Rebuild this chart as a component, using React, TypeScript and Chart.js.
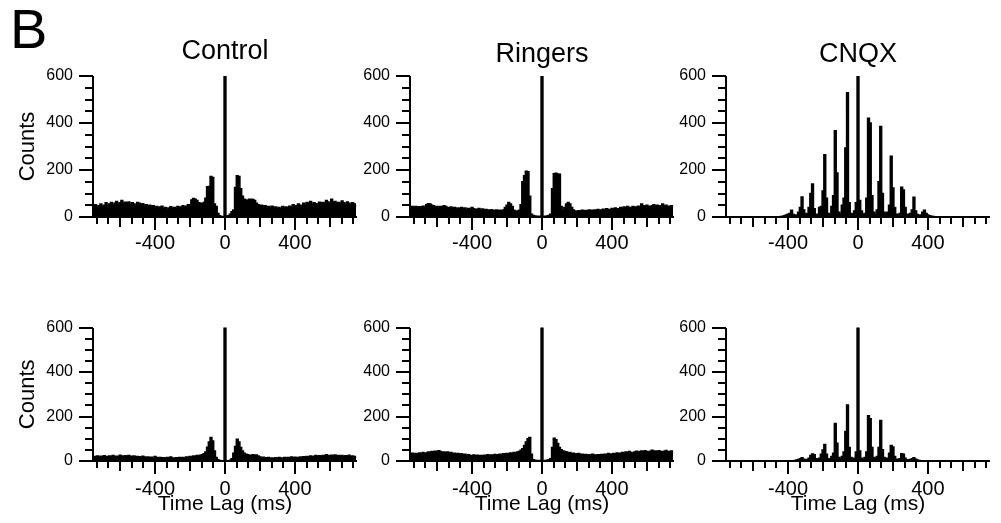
import React, { useEffect, useRef } from "react";
import { Chart, registerables } from "chart.js";

Chart.register(...registerables);

// ---------- data ----------
const LAGS = [
  -750, -740, -730, -720, -710, -700, -690, -680, -670, -660,
  -650, -640, -630, -620, -610, -600, -590, -580, -570, -560,
  -550, -540, -530, -520, -510, -500, -490, -480, -470, -460,
  -450, -440, -430, -420, -410, -400, -390, -380, -370, -360,
  -350, -340, -330, -320, -310, -300, -290, -280, -270, -260,
  -250, -240, -230, -220, -210, -200, -190, -180, -170, -160,
  -150, -140, -130, -120, -110, -100, -90, -80, -70, -60,
  -50, -40, -30, -20, -10, 0, 10, 20, 30, 40,
  50, 60, 70, 80, 90, 100, 110, 120, 130, 140,
  150, 160, 170, 180, 190, 200, 210, 220, 230, 240,
  250, 260, 270, 280, 290, 300, 310, 320, 330, 340,
  350, 360, 370, 380, 390, 400, 410, 420, 430, 440,
  450, 460, 470, 480, 490, 500, 510, 520, 530, 540,
  550, 560, 570, 580, 590, 600, 610, 620, 630, 640,
  650, 660, 670, 680, 690, 700, 710, 720, 730, 740, 750,
];

const CONTROL_TOP = [
  45, 52, 40, 48, 55, 42, 50, 60, 47, 55,
  62, 50, 58, 66, 52, 60, 70, 55, 63, 58,
  64, 52, 60, 55, 48, 62, 58, 50, 56, 45,
  52, 44, 50, 42, 48, 40, 45, 38, 42, 46,
  36, 40, 32, 38, 43, 35, 40, 36, 44, 38,
  42, 48, 40, 46, 52, 45, 72, 78, 75, 70,
  60, 58, 55, 62, 80, 128, 130, 172, 168, 55,
  45, 15, 5, 2, 0, 600, 0, 5, 12, 22,
  30, 125, 175, 172, 120, 88, 75, 72, 70, 75,
  75, 74, 70, 58, 52, 48, 50, 44, 48, 42,
  45, 40, 46, 38, 42, 36, 40, 35, 44, 38,
  42, 38, 46, 40, 52, 45, 48, 55, 50, 46,
  58, 50, 62, 55, 66, 52, 60, 56, 50, 63,
  58, 62, 55, 70, 64, 58, 75, 60, 66, 58,
  62, 55, 68, 60, 52, 64, 58, 50, 60, 55, 48,
];

const RINGERS_TOP = [
  42, 45, 40, 44, 38, 43, 40, 46, 41, 52,
  56, 55, 50, 48, 40, 44, 38, 45, 42, 48,
  44, 40, 38, 42, 36, 40, 33, 38, 35, 40,
  34, 38, 30, 36, 32, 40, 35, 30, 33, 36,
  30, 34, 28, 32, 30, 27, 31, 28, 25, 30,
  26, 28, 24, 30, 40, 50, 62, 55, 45, 28,
  22, 25, 28, 52, 150, 175, 194, 192, 88, 12,
  6, 4, 3, 3, 2, 600, 2, 3, 4, 6,
  12, 120, 184, 186, 183, 182, 45, 26, 40, 55,
  62, 55, 40, 30, 25, 22, 26, 24, 28, 25,
  27, 24, 30, 28, 26, 30, 27, 32, 28, 30,
  33, 30, 35, 32, 30, 36, 34, 38, 35, 33,
  40, 36, 42, 38, 44, 40, 37, 45, 42, 40,
  46, 42, 55, 48, 44, 50, 46, 42, 48, 52,
  45, 50, 42, 48, 55, 44, 50, 46, 42, 48, 44,
];

const CNQX_TOP = [
  0, 0, 0, 0, 0, 0, 0, 0, 0, 0,
  0, 0, 0, 0, 0, 0, 0, 0, 0, 0,
  0, 0, 0, 0, 0, 0, 0, 0, 0, 0,
  0, 2, 3, 5, 8, 12, 15, 28, 10, 5,
  8, 20, 40, 85, 30, 8, 15, 40, 100, 140,
  35, 8, 12, 40, 45, 110, 265, 80, 15, 10,
  45, 90, 367, 187, 20, 10, 50, 80, 293, 528,
  60, 15, 10, 25, 60, 600, 70, 25, 10, 15,
  80, 420, 400, 90, 20, 10, 30, 150, 385, 100,
  20, 10, 20, 50, 258, 123, 40, 12, 8, 15,
  126, 115, 40, 12, 8, 15, 30, 84, 25, 10,
  5, 8, 20, 28, 15, 8, 5, 3, 2, 0,
  0, 0, 0, 0, 0, 0, 0, 0, 0, 0,
  0, 0, 0, 0, 0, 0, 0, 0, 0, 0,
  0, 0, 0, 0, 0, 0, 0, 0, 0, 0, 0,
];

const CONTROL_BOTTOM = [
  20, 18, 22, 17, 21, 19, 23, 18, 20, 22,
  19, 24, 18, 21, 20, 26, 22, 19, 23, 20,
  24, 18, 21, 22, 17, 20, 19, 16, 21, 18,
  15, 18, 14, 17, 12, 20, 15, 13, 16, 12,
  14, 11, 15, 12, 18, 13, 10, 14, 12, 15,
  13, 16, 12, 18, 15, 20, 17, 22, 19, 24,
  22, 26, 28, 32, 40, 62, 85, 105, 90, 45,
  15, 5, 2, 1, 0, 600, 0, 1, 3, 10,
  35, 65, 98, 85, 60, 45, 35, 30, 28, 26,
  25, 28, 24, 27, 22, 18, 15, 17, 14, 12,
  15, 11, 13, 10, 14, 12, 16, 13, 11, 15,
  12, 16, 14, 18, 13, 17, 15, 12, 18, 16,
  19, 15, 20, 17, 22, 18, 21, 24, 19, 23,
  20, 25, 22, 28, 24, 21, 26, 23, 27, 22,
  25, 21, 24, 19, 23, 20, 26, 18, 22, 20, 17,
];

const RINGERS_BOTTOM = [
  30, 35, 28, 33, 30, 36, 32, 38, 34, 36,
  40, 36, 42, 38, 44, 40, 46, 42, 38, 40,
  36, 40, 34, 38, 32, 35, 30, 33, 28, 32,
  26, 30, 24, 28, 25, 22, 27, 24, 26, 23,
  25, 22, 26, 24, 28, 23, 27, 25, 29, 26,
  28, 30, 26, 32, 29, 34, 31, 36, 33, 38,
  35, 40, 42, 48, 55, 70, 85, 100, 105, 30,
  5, 3, 2, 2, 1, 600, 1, 2, 3, 5,
  10, 60, 102, 95, 78, 60, 50, 45, 42, 40,
  36, 38, 34, 35, 32, 30, 33, 28, 30, 27,
  29, 26, 28, 25, 30, 27, 24, 28, 26, 29,
  27, 30, 28, 33, 29, 31, 34, 30, 36, 32,
  35, 38, 33, 40, 36, 42, 38, 35, 40, 44,
  38, 42, 45, 40, 46, 42, 38, 44, 48, 42,
  45, 40, 46, 42, 38, 44, 47, 42, 40, 45, 38,
];

const CNQX_BOTTOM = [
  0, 0, 0, 0, 0, 0, 0, 0, 0, 0,
  0, 0, 0, 0, 0, 0, 0, 0, 0, 0,
  0, 0, 0, 0, 0, 0, 0, 0, 0, 0,
  0, 0, 0, 0, 0, 0, 0, 0, 0, 2,
  4, 6, 10, 14, 8, 4, 6, 12, 25, 31,
  28, 10, 5, 12, 30, 49, 74, 30, 8, 10,
  20, 35, 168, 80, 15, 10, 20, 40, 133, 252,
  60, 15, 8, 12, 40, 600, 45, 12, 8, 15,
  40, 203, 190, 60, 15, 10, 20, 60, 182, 50,
  15, 8, 12, 35, 70, 63, 20, 8, 5, 10,
  32, 30, 12, 5, 4, 6, 10, 14, 8, 4,
  2, 0, 0, 0, 0, 0, 0, 0, 0, 0,
  0, 0, 0, 0, 0, 0, 0, 0, 0, 0,
  0, 0, 0, 0, 0, 0, 0, 0, 0, 0,
  0, 0, 0, 0, 0, 0, 0, 0, 0, 0, 0,
];

const COLUMN_TITLES = ["Control", "Ringers", "CNQX"];
const PANEL_LETTER = "B";
const Y_TITLE = "Counts";
const X_TITLE = "Time Lag (ms)";

const LAG_MIN = -755;
const LAG_MAX = 755;
const COUNT_MIN = 0;
const COUNT_MAX = 600;

const X_LABEL_TICKS = [-400, 0, 400];
const Y_LABEL_TICKS = [0, 200, 400, 600];
const X_MARK_TICKS = [
  -733.333, -666.667, -600, -533.333, -466.667, -400, -333.333, -266.667,
  -200, -133.333, -66.667, 0, 66.667, 133.333, 200, 266.667, 333.333, 400,
  466.667, 533.333, 600, 666.667, 733.333,
];
const Y_MARK_TICKS = [0, 50, 100, 150, 200, 250, 300, 350, 400, 450, 500, 550, 600];

// ---------- layout ----------
const FONT = "'Liberation Sans', Arial, Helvetica, sans-serif";
Chart.defaults.font.family = FONT;
Chart.defaults.color = "#000";

const COLS = [
  { left: 0, width: 367, yWidth: 93 },
  { left: 340, width: 344, yWidth: 70 },
  { left: 656, width: 344, yWidth: 70 },
];
const ROWS = [
  { top: 10, height: 252, xHeight: 45, padTop: 0, labelPad: 14 },
  { top: 298, height: 225, xHeight: 62, padTop: 20, labelPad: 16 },
];
const TITLE_PADS = [
  { top: 25.8, bottom: 7.8 },
  { top: 28.8, bottom: 4.8 },
  { top: 28.8, bottom: 4.8 },
];

const PANELS = [
  { row: 0, col: 0, values: CONTROL_TOP },
  { row: 0, col: 1, values: RINGERS_TOP },
  { row: 0, col: 2, values: CNQX_TOP },
  { row: 1, col: 0, values: CONTROL_BOTTOM },
  { row: 1, col: 1, values: RINGERS_BOTTOM },
  { row: 1, col: 2, values: CNQX_BOTTOM },
];

const isMultiple = (v: number, m: number) => {
  const r = Math.abs(v) / m;
  return Math.abs(r - Math.round(r)) < 1e-3;
};

const axesPlugin = {
  id: "histAxes",
  afterDatasetsDraw(chart: any) {
    const { ctx } = chart;
    const x = chart.scales.x;
    const y = chart.scales.y;
    const x0 = Math.round(x.getPixelForValue(LAG_MIN));
    const x1 = Math.round(x.getPixelForValue(LAG_MAX));
    const yb = Math.round(y.getPixelForValue(COUNT_MIN));
    const yt = Math.round(y.getPixelForValue(COUNT_MAX));
    ctx.save();
    ctx.strokeStyle = "#000";
    ctx.lineWidth = 2;
    ctx.beginPath();
    ctx.moveTo(x0, yt);
    ctx.lineTo(x0, yb + 1);
    ctx.moveTo(x0 - 1, yb);
    ctx.lineTo(x1, yb);
    Y_MARK_TICKS.forEach((v) => {
      const py = Math.round(y.getPixelForValue(v));
      const len = isMultiple(v, 200) ? 14 : 8;
      ctx.moveTo(x0, py);
      ctx.lineTo(x0 - len, py);
    });
    X_MARK_TICKS.forEach((v) => {
      const px = Math.round(x.getPixelForValue(v));
      const len = isMultiple(v, 400) ? 13 : isMultiple(v, 200) ? 10 : 7;
      ctx.moveTo(px, yb);
      ctx.lineTo(px, yb + len);
    });
    ctx.stroke();
    ctx.restore();
  },
};

function Panel({ row, col, values }: { row: number; col: number; values: number[] }) {
  const ref = useRef<HTMLCanvasElement | null>(null);
  const c = COLS[col];
  const r = ROWS[row];
  useEffect(() => {
    if (!ref.current) return;
    const chart = new Chart(ref.current, {
      type: "line",
      data: {
        datasets: [
          {
            data: LAGS.map((lag, i) => ({ x: lag, y: values[i] })),
            stepped: "middle",
            fill: "origin",
            backgroundColor: "#000",
            borderColor: "#000",
            borderWidth: 1.6,
            pointRadius: 0,
          },
        ],
      },
      options: {
        animation: false,
        responsive: false,
        devicePixelRatio: 1,
        events: [],
        layout: { padding: { left: 0, right: 10, top: r.padTop, bottom: 0 } },
        plugins: {
          legend: { display: false },
          tooltip: { enabled: false },
          title:
            row === 0
              ? {
                  display: true,
                  text: COLUMN_TITLES[col],
                  fullSize: false,
                  color: "#000",
                  font: { size: 27, weight: "normal", family: FONT },
                  padding: TITLE_PADS[col],
                }
              : { display: false },
        },
        scales: {
          x: {
            type: "linear",
            min: LAG_MIN,
            max: LAG_MAX,
            grid: { display: false, drawTicks: false },
            border: { display: false },
            afterBuildTicks: (s: any) => {
              s.ticks = X_LABEL_TICKS.map((v) => ({ value: v }));
            },
            afterFit: (s: any) => {
              s.height = r.xHeight;
            },
            ticks: {
              autoSkip: false,
              maxRotation: 0,
              minRotation: 0,
              padding: r.labelPad,
              color: "#000",
              font: { size: 20, family: FONT },
              callback: (v: any) => String(v),
            },
            title:
              row === 1
                ? {
                    display: true,
                    text: X_TITLE,
                    color: "#000",
                    font: { size: 21, family: FONT },
                    padding: { top: 0, bottom: 6 },
                  }
                : { display: false },
          },
          y: {
            type: "linear",
            min: COUNT_MIN,
            max: COUNT_MAX,
            grid: { display: false, drawTicks: false },
            border: { display: false },
            afterBuildTicks: (s: any) => {
              s.ticks = Y_LABEL_TICKS.map((v) => ({ value: v }));
            },
            afterFit: (s: any) => {
              s.width = c.yWidth;
            },
            ticks: {
              autoSkip: false,
              padding: 20,
              color: "#000",
              font: { size: 16, family: FONT },
              callback: (v: any) => String(v),
            },
            title:
              col === 0
                ? {
                    display: true,
                    text: Y_TITLE,
                    color: "#000",
                    font: { size: 22, family: FONT },
                    padding: { top: 14.3, bottom: 0 },
                  }
                : { display: false },
          },
        },
      } as any,
      plugins: [axesPlugin],
    });
    return () => chart.destroy();
  }, []);
  return (
    <canvas
      ref={ref}
      width={c.width}
      height={r.height}
      style={{ position: "absolute", left: c.left, top: r.top, width: c.width, height: r.height }}
    />
  );
}

export default function App() {
  return (
    <div
      style={{
        position: "fixed",
        left: 0,
        top: 0,
        width: 1001,
        height: 523,
        background: "#fff",
        overflow: "hidden",
      }}
    >
      <div
        style={{
          position: "absolute",
          left: 10,
          top: 1,
          fontFamily: FONT,
          fontSize: 56,
          lineHeight: "56px",
          color: "#000",
        }}
      >
        {PANEL_LETTER}
      </div>
      {PANELS.map((p, i) => (
        <Panel key={i} row={p.row} col={p.col} values={p.values} />
      ))}
    </div>
  );
}
